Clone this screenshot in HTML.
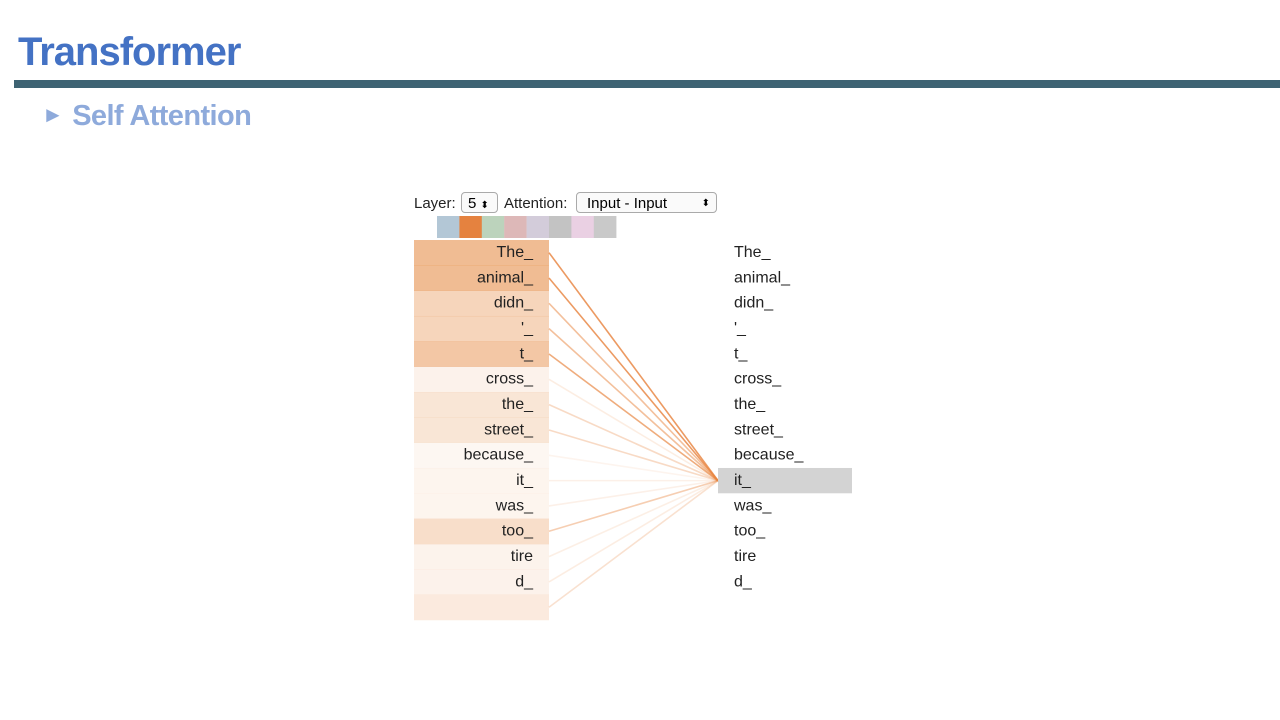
<!DOCTYPE html>
<html><head><meta charset="utf-8"><style>
body{margin:0;width:1280px;height:720px;background:#fff;overflow:hidden;position:relative;font-family:"Liberation Sans",sans-serif}
#title{position:absolute;left:18px;top:30px;font-size:40px;font-weight:bold;color:#4472c4;letter-spacing:-1px}
#rule{position:absolute;left:14px;top:80px;width:1266px;height:8px;background:#3e6373}
#sub{position:absolute;left:42px;top:100px;font-size:29px;font-weight:bold;color:#8eaadb;letter-spacing:-0.6px}
#sub .tri{font-size:22px;margin-right:9px;position:relative;top:-3px}
.ctl{position:absolute;top:192px;font-size:15px;color:#222}
.sel{position:absolute;top:192px;height:21px;border:1px solid #aaa;border-radius:4px;background:#fafafa;font-size:15px;line-height:21px;padding-left:6px;box-sizing:border-box}
</style></head><body>
<div id="title">Transformer</div>
<div id="rule"></div>
<div id="sub"><span class="tri">►</span>Self Attention</div>
<div class="ctl" style="left:414px;top:195px">Layer:</div>
<div class="sel" style="left:461px;width:37px">5 <span style="font-size:10px">⬍</span></div>
<div class="ctl" style="left:504px;top:195px">Attention:</div>
<div class="sel" style="left:576px;width:141px;padding-left:10px">Input - Input<span style="position:absolute;right:6px;font-size:10px">⬍</span></div>
<svg id="viz" width="1280" height="720" style="position:absolute;left:0;top:0"></svg>
<script>
const tokens=["The_","animal_","didn_","'_","t_","cross_","the_","street_","because_","it_","was_","too_","tire","d_",""];
const weights=[0.55,0.55,0.33,0.33,0.45,0.07,0.18,0.18,0.03,0.05,0.05,0.25,0.06,0.07,0.14];
const headColors=["#b3c7d6","#e5823f","#bcd3bc","#ddb8b8","#d3ccda","#c3c3c3","#ead0e3","#c9c9c9"];
const focusIndex=9;
const NS="http://www.w3.org/2000/svg",svg=document.getElementById('viz');
const top0=240,rowH=25.33,lx=414,lw=135,rx=718,rw=134;
const y=i=>top0+i*rowH;
function mk(t,a){const e=document.createElementNS(NS,t);for(const k in a)e.setAttribute(k,a[k]);svg.appendChild(e);return e;}
headColors.forEach((c,i)=>{const r=mk('rect',{x:437+i*22.4,y:216,width:22.6,height:22,fill:c});

});
tokens.forEach((t,i)=>{
 const r=mk('rect',{x:lx,y:y(i),width:lw,height:rowH+0.3,fill:'#e5883f','fill-opacity':weights[i]*0.95+0.04});
 
 
 const tx=mk('text',{x:533,y:y(i)+17,'text-anchor':'end','font-size':16,fill:'#222','font-family':'Liberation Sans, sans-serif'});tx.textContent=t;
 
 
 const l=mk('line',{x1:lx+lw,y1:y(i)+rowH/2,x2:rx,y2:y(focusIndex)+rowH/2,stroke:'#e8843f','stroke-width':1.6,'stroke-opacity':Math.min(1,weights[i]*1.4+0.05)});
 
 
 if(i===focusIndex){const h=mk('rect',{x:rx,y:y(i),width:rw,height:rowH,fill:'#d3d3d3'});
  
  }
 if(t){const rt=mk('text',{x:734,y:y(i)+17,'font-size':16,fill:'#222','font-family':'Liberation Sans, sans-serif'});rt.textContent=t;
 
 }
});
</script>
</body></html>
